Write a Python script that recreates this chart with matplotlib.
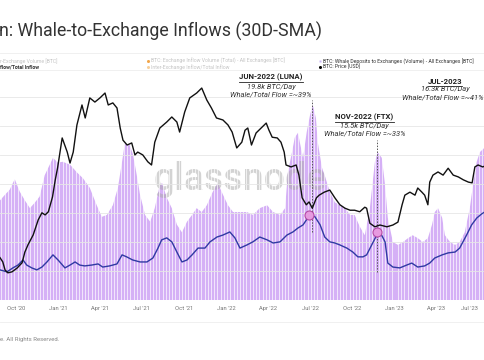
import matplotlib
matplotlib.use('Agg')
import matplotlib.pyplot as plt
import matplotlib.dates as mdates
import pandas as pd
from matplotlib.lines import Line2D

# ---------------- data ----------------
whale_dates = ['2020-08-27','2020-09-07','2020-09-17','2020-09-28','2020-10-09','2020-10-20','2020-10-31',
 '2020-11-11','2020-11-21','2020-12-02','2020-12-13','2020-12-20','2020-12-31','2021-01-10','2021-01-26',
 '2021-02-10','2021-02-23','2021-03-10','2021-03-25','2021-04-05','2021-04-16','2021-04-29','2021-05-10',
 '2021-05-19','2021-05-25','2021-06-05','2021-06-12','2021-06-20','2021-06-27','2021-07-08','2021-07-19',
 '2021-07-29','2021-08-09','2021-08-14','2021-08-24','2021-09-04','2021-09-15','2021-09-26','2021-10-07',
 '2021-10-18','2021-10-28','2021-11-08','2021-11-19','2021-12-02','2021-12-13','2021-12-24','2022-01-04',
 '2022-01-15','2022-01-30','2022-02-14','2022-02-27','2022-03-14','2022-03-30','2022-04-12','2022-04-27',
 '2022-05-08','2022-05-14','2022-05-23','2022-05-29','2022-06-05','2022-06-09','2022-06-16','2022-06-24',
 '2022-07-01','2022-07-07','2022-07-14','2022-07-18','2022-07-27','2022-08-02','2022-08-13','2022-08-24',
 '2022-09-04','2022-09-15','2022-09-26','2022-10-06','2022-10-17','2022-10-28','2022-11-08','2022-11-19',
 '2022-11-25','2022-12-04','2022-12-11','2022-12-17','2022-12-28','2023-01-08','2023-01-19','2023-01-30',
 '2023-02-09','2023-02-20','2023-03-03','2023-03-14','2023-03-23','2023-03-29','2023-04-05','2023-04-14',
 '2023-04-20','2023-05-01','2023-05-12','2023-05-22','2023-06-02','2023-06-13','2023-06-20','2023-06-28',
 '2023-07-05','2023-07-16']
whale_kbtc = [10.3,10.9,11.4,12.5,11.2,10.3,9.5,
 10.1,10.7,12.9,14.0,14.7,14.2,14.3,14.0,
 13.2,12.6,11.6,9.8,8.6,8.8,9.8,11.6,
 14.3,16.2,16.0,15.0,12.9,10.9,8.8,8.1,
 9.5,11.9,12.1,10.6,9.5,7.8,7.0,8.1,
 8.8,9.5,9.1,9.8,11.2,12.1,10.9,9.8,
 9.1,9.1,9.1,8.8,9.5,9.8,9.1,8.8,
 9.5,13.2,15.3,16.8,17.3,16.3,14.7,17.4,
 19.1,20.2,18.8,16.3,13.7,12.9,11.2,10.1,
 9.8,9.5,8.8,8.8,7.6,6.7,9.5,14.3,
 15.3,14.7,11.9,8.5,6.0,5.7,6.0,6.4,
 6.7,6.4,6.0,6.4,7.8,9.1,9.5,8.5,
 6.7,6.0,5.7,6.0,7.0,9.5,11.9,14.3,
 15.3,15.8]

ratio_dates = ['2020-08-27','2020-09-11','2020-09-24','2020-10-05','2020-10-16','2020-10-24','2020-11-04',
 '2020-11-15','2020-11-26','2020-12-07','2020-12-20','2020-12-31','2021-01-15','2021-01-26','2021-02-06',
 '2021-02-16','2021-02-27','2021-03-14','2021-03-28','2021-04-07','2021-04-22','2021-05-08','2021-05-19',
 '2021-05-29','2021-06-11','2021-06-27','2021-07-12','2021-07-25','2021-08-05','2021-08-13','2021-08-24',
 '2021-09-04','2021-09-15','2021-09-26','2021-10-07','2021-10-18','2021-10-31','2021-11-15','2021-11-26',
 '2021-12-11','2021-12-24','2022-01-08','2022-01-19','2022-01-30','2022-02-14','2022-02-27','2022-03-14',
 '2022-03-30','2022-04-12','2022-04-27','2022-05-12','2022-05-25','2022-06-05','2022-06-16','2022-06-26',
 '2022-07-05','2022-07-12','2022-07-23','2022-08-02','2022-08-13','2022-08-24','2022-09-04','2022-09-19',
 '2022-10-02','2022-10-13','2022-10-24','2022-11-01','2022-11-12','2022-11-23','2022-11-30','2022-12-11',
 '2022-12-17','2022-12-28','2023-01-12','2023-01-27','2023-02-07','2023-02-20','2023-03-07','2023-03-18',
 '2023-03-29','2023-04-14','2023-04-27','2023-05-12','2023-05-22','2023-06-06','2023-06-17','2023-06-28',
 '2023-07-09','2023-07-16']
ratio_pct = [19.6,18.9,20.3,21.3,23.1,21.3,20.3,
 19.6,20.6,22.4,24.9,23.1,20.3,21.3,22.4,
 21.3,21.0,21.3,21.7,20.6,21.0,21.7,24.9,
 24.2,23.1,22.4,22.4,23.8,27.3,30.2,30.9,
 29.5,25.9,22.4,23.1,24.9,27.3,27.3,29.5,
 31.2,31.9,33.0,30.9,27.3,28.4,29.5,31.2,
 30.2,29.1,29.5,31.9,33.0,34.4,35.5,37.9,
 39.0,38.3,35.5,31.2,29.5,29.1,28.4,27.3,
 25.9,24.2,24.2,24.9,28.4,31.9,33.0,29.5,
 22.0,20.6,20.3,21.3,22.0,20.6,21.0,22.0,
 23.8,24.9,25.6,25.9,27.3,31.9,35.5,37.9,
 39.4,40.1]

price_dates = ['2020-08-27','2020-09-02','2020-09-07','2020-09-13','2020-09-22','2020-10-03','2020-10-14',
 '2020-10-20','2020-10-27','2020-11-07','2020-11-18','2020-11-26','2020-12-03','2020-12-10','2020-12-19',
 '2020-12-25','2020-12-30','2021-01-09','2021-01-20','2021-01-26','2021-02-02','2021-02-10','2021-02-21',
 '2021-02-28','2021-03-10','2021-03-21','2021-04-01','2021-04-12','2021-04-19','2021-04-29','2021-05-08',
 '2021-05-15','2021-05-21','2021-05-30','2021-06-09','2021-06-16','2021-06-22','2021-07-03','2021-07-14',
 '2021-07-22','2021-07-29','2021-08-09','2021-08-24','2021-09-04','2021-09-15','2021-09-21','2021-10-02',
 '2021-10-13','2021-10-28','2021-11-08','2021-11-19','2021-11-29','2021-12-10','2021-12-24','2022-01-04',
 '2022-01-13','2022-01-23','2022-02-03','2022-02-10','2022-02-16','2022-02-24','2022-03-06','2022-03-17',
 '2022-03-28','2022-04-03','2022-04-10','2022-04-21','2022-04-29','2022-05-06','2022-05-10','2022-05-21',
 '2022-06-01','2022-06-07','2022-06-14','2022-06-23','2022-06-29','2022-07-06','2022-07-15','2022-07-21',
 '2022-08-01','2022-08-13','2022-08-24','2022-09-04','2022-09-15','2022-09-26','2022-10-06','2022-10-17',
 '2022-10-28','2022-11-01','2022-11-08','2022-11-19','2022-11-30','2022-12-15','2022-12-28','2023-01-08',
 '2023-01-17','2023-01-23','2023-02-03','2023-02-14','2023-02-20','2023-03-01','2023-03-07','2023-03-14',
 '2023-03-18','2023-03-25','2023-04-05','2023-04-16','2023-04-27','2023-05-08','2023-05-19','2023-05-30',
 '2023-06-10','2023-06-18','2023-06-24','2023-07-01','2023-07-11','2023-07-16']
price_usd = [11900,11400,10500,10200,10300,10700,11300,
 12600,13600,15000,17500,18800,18400,19000,22100,
 26300,29700,40300,34900,31200,34900,46000,56400,
 49400,60600,58100,60600,63700,56400,57600,54700,
 44600,39400,37500,38300,33900,34900,33900,31600,
 30600,38600,44600,47400,49900,47400,42800,52500,
 60600,63700,67000,59300,54700,49400,48400,46000,
 42800,36400,38600,43600,44600,37500,42400,44600,
 46900,43600,40600,40300,38600,34900,30600,30000,
 30600,27600,21900,20400,21000,19700,21900,22500,
 23200,23700,21900,20400,19700,19300,19300,19000,
 19900,19700,16900,16300,16600,16300,16600,17100,
 20400,22500,23200,22500,24200,23200,22500,20400,
 25700,27600,28500,27600,29600,27600,27100,26300,
 25700,25500,30000,30600,30000,30300]

x_range = ['2020-08-27', '2023-07-16']
event_dates = ['2022-07-06', '2022-11-23']
event_marker_dates = ['2022-06-29', '2022-11-23']
event_marker_pct = [39.0, 33.0]
event_line_span = [(7.0, 20.7), (2.9, 16.6)]
annotations = [
    ('JUN-2022 (LUNA)', '19.8k BTC/Day', 'Whale/Total Flow =~39%'),
    ('NOV-2022 (FTX)', '15.5k BTC/Day', 'Whale/Total Flow =~33%'),
    ('JUL-2023', '16.3k BTC/Day', 'Whale/Total Flow =~41%'),
]

# ---------------- figure ----------------
W, H = 485, 360
fig = plt.figure(figsize=(W/100, H/100), dpi=100)
plt.rcParams['font.family'] = ['Roboto', 'DejaVu Sans']

def fx(px):
    return px / W
def fy(py):
    return 1 - py / H

ax1 = fig.add_axes([0, fy(300), 1, fy(70) - fy(300)])
wd = pd.to_datetime(whale_dates)
ax1.fill_between(wd, 0, whale_kbtc, color='#d5b0f6', lw=0, zorder=1)
ax1.set_ylim(0, 23.79)
ax1.set_yticks([3, 6, 9, 12, 15, 18, 21])
ax1.set_xlim(pd.to_datetime(x_range[0]), pd.to_datetime(x_range[1]))
ax1.xaxis.set_major_locator(mdates.MonthLocator(bymonth=[1, 4, 7, 10]))
ax1.xaxis.set_major_formatter(mdates.DateFormatter("%b '%y"))
ax1.xaxis.set_minor_locator(mdates.DayLocator(interval=7))
ax1.tick_params(axis='x', which='both', length=0, labelsize=4.2, colors='#777777', pad=4)
ax1.tick_params(axis='y', length=0, labelleft=False)
ax1.set_axisbelow(False)
ax1.grid(axis='y', which='major', color='#e6e6e6', lw=0.6)
ax1.grid(axis='x', which='minor', color='white', lw=0.6, alpha=0.8)
for s in ax1.spines.values():
    s.set_visible(False)
fig.canvas.draw()
ticklabels = ax1.get_xticklabels()
if ticklabels:
    ticklabels[-1].set_horizontalalignment('right')

# dashed event lines
for d, (y0, y1) in zip(event_dates, event_line_span):
    ax1.vlines(pd.to_datetime(d), y0, y1, colors='#555555', lw=0.7,
               linestyles=(0, (1.5, 1.5)), zorder=3)

# watermark (behind the lines)
ax1.text(fx(240), fy(180), 'glassnode', transform=fig.transFigure, fontsize=27,
         color='#a8a8a8', alpha=0.5, ha='center', va='center', fontweight='medium', zorder=2)

# whale/total ratio
ax2 = ax1.twinx()
ax2.plot(pd.to_datetime(ratio_dates), ratio_pct, color='#2f3aa3', lw=1.0, zorder=3)
ax2.plot(pd.to_datetime(event_marker_dates), event_marker_pct, 'o', ms=6.5,
         mfc='#e79ae0', mec='#b54aa6', mew=0.8, zorder=4)
ax2.set_ylim(8.96, 90.2)
ax2.axis('off')

# price
ax3 = ax1.twinx()
ax3.plot(pd.to_datetime(price_dates), price_usd, color='#111111', lw=1.0, zorder=3)
ax3.set_yscale('log')
ax3.set_ylim(7732, 80540)
ax3.axis('off')
ax3.set_xlim(ax1.get_xlim())
ax2.set_xlim(ax1.get_xlim())

# title
fig.text(fx(-1), fy(31), 'n: Whale-to-Exchange Inflows (30D-SMA)', fontsize=12.8,
         color='#333333', ha='left', va='center')

# legend separators and footer line
for py in (53, 70, 322):
    fig.add_artist(Line2D([0, 1], [fy(py), fy(py)], color='#eeeeee', lw=0.6))

leg_fs = 3.7
fig.text(fx(0), fy(61), 'r-Exchange Volume [BTC]', fontsize=leg_fs, color='#c4c4c4', va='center')
fig.text(fx(0), fy(67), 'flow/Total Inflow', fontsize=leg_fs, color='#333333', va='center', fontweight='bold')
fig.add_artist(Line2D([fx(148)], [fy(61)], marker='o', ms=2.2, color='#f2a64a', mec='none'))
fig.add_artist(Line2D([fx(148)], [fy(67)], marker='o', ms=2.2, color='#f7cf9a', mec='none'))
fig.text(fx(151), fy(61), 'BTC: Exchange Inflow Volume (Total) - All Exchanges [BTC]', fontsize=leg_fs,
         color='#c4c4c4', va='center')
fig.text(fx(151), fy(67), 'Inter-Exchange Inflow/Total Inflow', fontsize=leg_fs, color='#c4c4c4', va='center')
fig.add_artist(Line2D([fx(320)], [fy(61)], marker='s', ms=2.0, color='#c9b4f5', mec='none'))
fig.add_artist(Line2D([fx(320)], [fy(67)], marker='o', ms=2.2, color='#000000', mec='none'))
fig.text(fx(323), fy(61), 'BTC: Whale Deposits to Exchanges (Volume) - All Exchanges [BTC]', fontsize=leg_fs,
         color='#333333', va='center')
fig.text(fx(323), fy(67), 'BTC: Price [USD]', fontsize=leg_fs, color='#333333', va='center')

# footer
fig.text(fx(0), fy(339), 'e. All Rights Reserved.', fontsize=4.3, color='#888888', va='center')

# annotations
ann_pos = [(271, 77, 86.7, 94.7), (364.5, 117, 125.7, 133.5), (445, 81, 89, 97.3)]
heads = []
for i, ((h, l1, l2), (cx, y0, y1, y2)) in enumerate(zip(annotations, ann_pos)):
    t = fig.text(fx(cx), fy(y0), h, fontsize=5.6, fontweight='bold', color='#222222',
                 ha='center', va='center')
    heads.append(t)
    fig.text(fx(cx), fy(y1), l1, fontsize=5.4, style='italic', color='#333333', ha='center', va='center')
    if i == 2:
        fig.text(fx(484), fy(y2), l2, fontsize=5.4, style='italic', color='#333333', ha='right', va='center')
    else:
        fig.text(fx(cx), fy(y2), l2, fontsize=5.4, style='italic', color='#333333', ha='center', va='center')

fig.canvas.draw()
r = fig.canvas.get_renderer()
for t in heads:
    bb = t.get_window_extent(r)
    yb = bb.y0 - 1.0
    fig.add_artist(Line2D([bb.x0 / W, bb.x1 / W], [yb / H, yb / H], color='#222222', lw=0.6))

fig.savefig('out.png', dpi=100)
